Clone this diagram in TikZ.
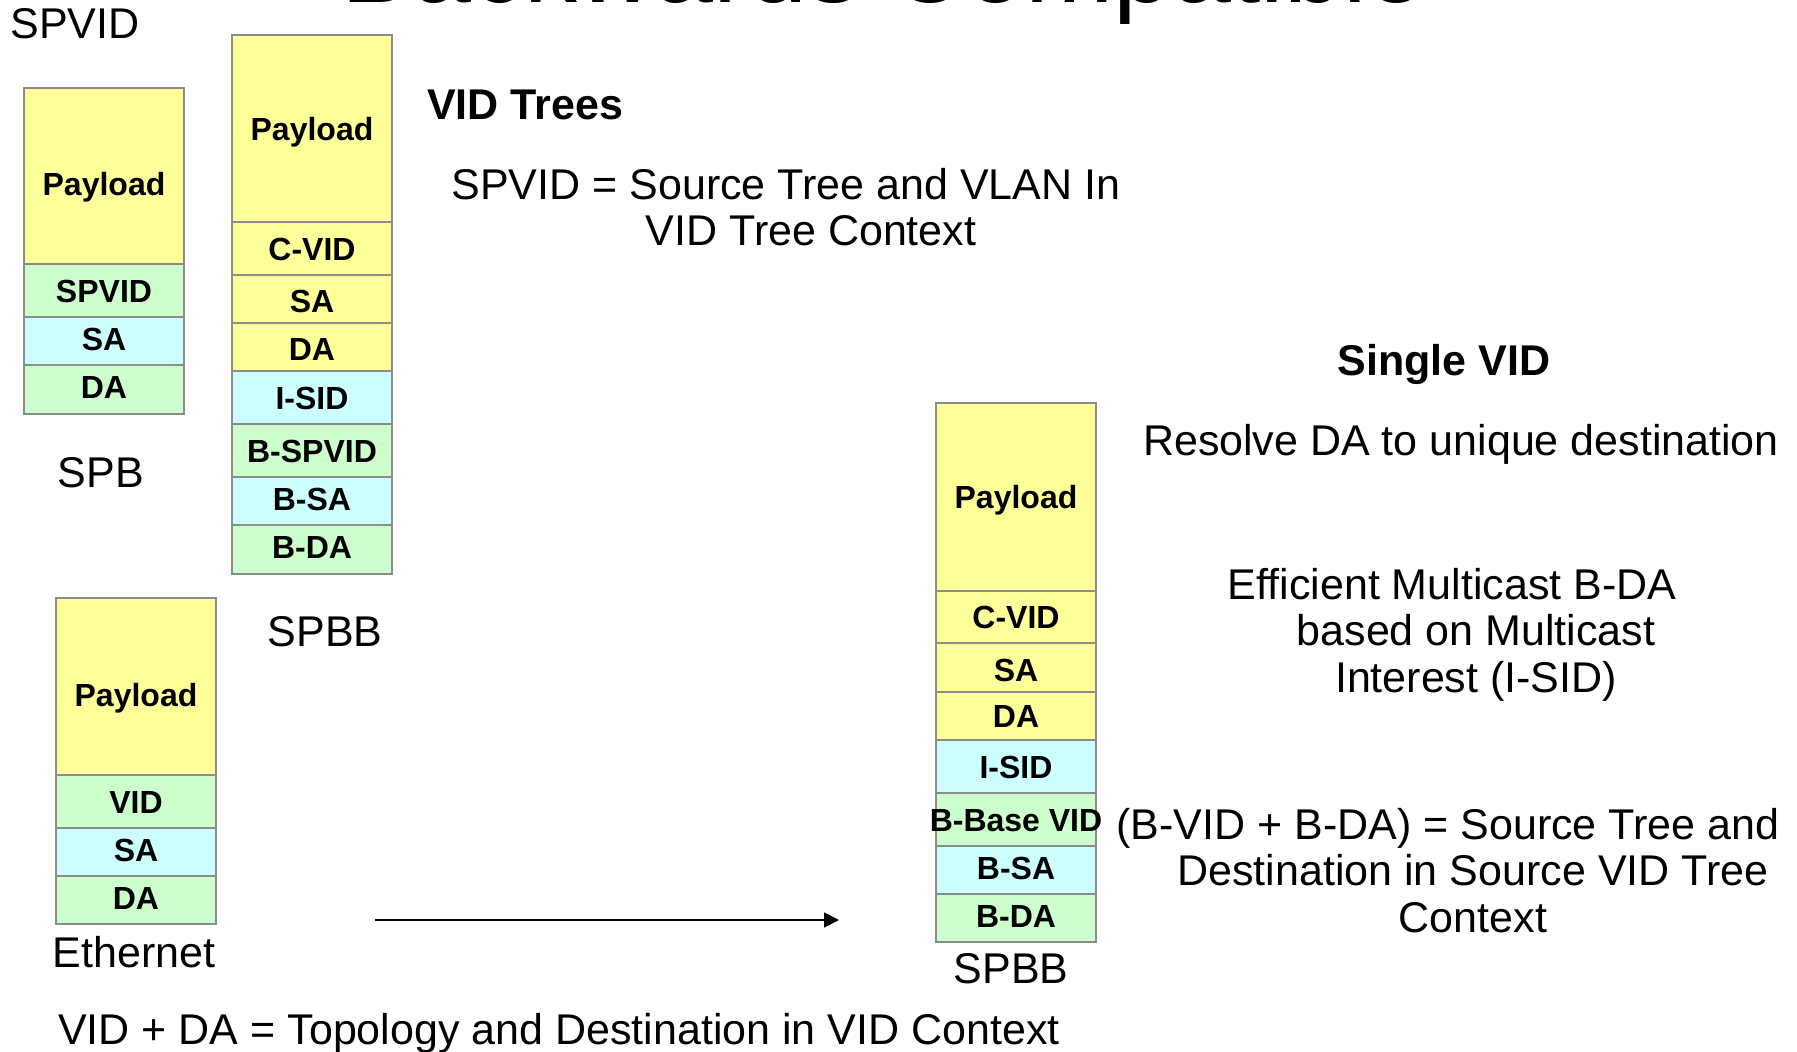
\documentclass[tikz,border=0pt]{standalone}
\usepackage{fontspec}
\setmainfont{Liberation Sans}
\usetikzlibrary{arrows.meta}
\definecolor{cellyellow}{HTML}{FFFF99}
\definecolor{cellgreen}{HTML}{CCFFCC}
\definecolor{cellcyan}{HTML}{CCFFFF}
\definecolor{cellgray}{HTML}{8C8C8C}
\newcommand\cellfont{\fontsize{32}{35}\selectfont\bfseries}
\newcommand\labfont{\fontsize{43}{47}\selectfont}
\begin{document}
\begin{tikzpicture}[x=1pt,y=-1pt,
  cell/.style={draw=cellgray, line width=2pt, minimum width=160pt, inner sep=0pt,
    anchor=north west, font=\cellfont, text height=23pt, text depth=0pt},
  ylw/.style={cell, fill=cellyellow},
  grn/.style={cell, fill=cellgreen},
  cyn/.style={cell, fill=cellcyan},
  lowtext/.style={text height=39pt},
  tup/.style={text depth=4.5pt},
  tdn/.style={text height=27.5pt},
  lab/.style={anchor=base, font=\labfont, inner sep=0pt},
  blab/.style={anchor=base, font=\labfont\bfseries, inner sep=0pt},
  arrowline/.style={line width=1.75pt, -{Triangle[length=15pt,width=15pt]}}
]
\fill[white] (0,0) rectangle (1797,1052);
\useasboundingbox (0,0) rectangle (1797,1052);

% title (cut off by the page top, as in the reference)
\node[anchor=base, inner sep=0pt, font=\fontsize{106}{110}\selectfont] (title) at (884,2) {Backwards Compatible};

% SPB stack
\node[ylw, lowtext, minimum height=176pt] (spbP) at (23,87) {Payload};
\node[grn, minimum height=53pt] (spbV) at (23,263) {SPVID};
\node[cyn, tup, minimum height=48pt] (spbS) at (23,316) {SA};
\node[grn, tup, minimum height=49pt] (spbD) at (23,364) {DA};

% SPBB left stack
\node[ylw, minimum height=187pt] (lP) at (231,34) {Payload};
\node[ylw, minimum height=53pt] (lC) at (231,221) {C-VID};
\node[ylw, tdn, minimum height=48pt] (lS) at (231,274) {SA};
\node[ylw, tdn, minimum height=48pt] (lD) at (231,322) {DA};
\node[cyn, minimum height=53pt] (lI) at (231,370) {I-SID};
\node[grn, minimum height=53pt] (lB) at (231,423) {B-SPVID};
\node[cyn, tup, minimum height=48pt] (lBS) at (231,476) {B-SA};
\node[grn, tup, minimum height=49pt] (lBD) at (231,524) {B-DA};

% Ethernet stack
\node[ylw, lowtext, minimum height=177pt] (eP) at (55,597) {Payload};
\node[grn, minimum height=53pt] (eV) at (55,774) {VID};
\node[cyn, tup, minimum height=48pt] (eS) at (55,827) {SA};
\node[grn, tup, minimum height=48pt] (eD) at (55,875) {DA};

% SPBB right stack
\node[ylw, minimum height=188pt] (rP) at (935,402) {Payload};
\node[ylw, minimum height=52pt] (rC) at (935,590) {C-VID};
\node[ylw, tdn, minimum height=49pt] (rS) at (935,642) {SA};
\node[ylw, minimum height=48pt] (rD) at (935,691) {DA};
\node[cyn, minimum height=53pt] (rI) at (935,739) {I-SID};
\node[grn, minimum height=53pt] (rB) at (935,792) {\makebox[0pt]{B-Base VID}};
\node[cyn, tup, minimum height=48pt] (rBS) at (935,845) {B-SA};
\node[grn, tup, minimum height=48pt] (rBD) at (935,893) {B-DA};

% labels
\node[lab] (tSPVID) at (75,38) {SPVID};
\node[lab] (tSPB) at (101,487) {SPB};
\node[lab] (tEth) at (134,967) {Ethernet};
\node[lab] (tSPBBl) at (325,646) {SPBB};
\node[lab] (tSPBBr) at (1011,983) {SPBB};

\node[blab] (tVIDTrees) at (525,119) {VID Trees};
\node[lab] (tSp1) at (786,199) {SPVID = Source Tree and VLAN In};
\node[lab] (tSp2) at (811,245) {VID Tree Context};

\node[blab] (tSingle) at (1444,375) {Single VID};
\node[lab] (tResolve) at (1461,455) {Resolve DA to unique destination};

\node[lab] (tEf1) at (1452,599) {Efficient Multicast B-DA};
\node[lab] (tEf2) at (1476,645) {based on Multicast};
\node[lab] (tEf3) at (1476,692) {Interest (I-SID)};

\node[lab] (tBv1) at (1448,839) {(B-VID + B-DA) = Source Tree and};
\node[lab] (tBv2) at (1473,885) {Destination in Source VID Tree};
\node[lab] (tBv3) at (1473,932) {Context};

\node[lab, anchor=base west] (tBottom) at (58,1044) {VID + DA = Topology and Destination in VID Context};

% arrow
\coordinate (arrS) at (375,920);
\coordinate (arrE) at (839,920);
\draw[arrowline] (arrS) -- (arrE);
\end{tikzpicture}
\end{document}
